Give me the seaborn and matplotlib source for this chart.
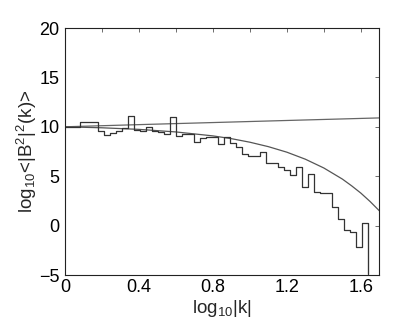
import matplotlib
matplotlib.use("Agg")
import matplotlib.pyplot as plt
import seaborn as sns
import pandas as pd
import numpy as np

# power law (no cutoff)
power_x = [0.0, 0.4, 0.8, 1.2, 1.7]
power_y = [10.0, 10.22, 10.43, 10.64, 10.9]

# power law with cutoff
cut_x = [0.0, 0.2, 0.4, 0.6, 0.8, 0.9, 1.0, 1.1, 1.2, 1.3, 1.4, 1.5, 1.55, 1.6, 1.65, 1.7]
cut_y = [10.0, 9.9, 9.74, 9.48, 9.08, 8.8, 8.44, 7.99, 7.43, 6.72, 5.83, 4.71, 4.03, 3.29, 2.44, 1.5]

# measured spectrum (histogram), first bin is the lead-in from 0
hist_first_edge = 0.0812
hist_bin_width = 0.0324
hist_values = [10.0, 10.45, 10.45, 10.45, 9.6, 9.2, 9.36, 9.57, 9.83, 11.09, 9.72, 9.6, 10.0, 9.6,
               9.47, 9.24, 10.96, 9.07, 9.3, 9.3, 8.5, 8.88, 8.92, 8.92, 8.3, 8.92, 8.35, 7.95,
               7.2, 7.07, 7.07, 7.46, 6.3, 6.3, 5.97, 5.63, 5.12, 5.97, 3.94, 5.22, 3.43, 3.35,
               3.26, 1.92, 0.64, -0.43, -0.6, -2.19, 0.23]

edges = np.concatenate([[0.0], hist_first_edge + hist_bin_width * np.arange(len(hist_values))])
hist_df = pd.DataFrame({
    "x": list(edges) + [edges[-1]],
    "y": hist_values + [hist_values[-1], -10.0],
})

sns.set_style("white")
plt.rcParams["font.family"] = ["Liberation Sans", "DejaVu Sans"]
plt.rcParams["mathtext.fontset"] = "custom"
plt.rcParams["mathtext.rm"] = "Liberation Sans"
plt.rcParams["mathtext.it"] = "Liberation Sans"

fig = plt.figure(figsize=(4.07, 3.23), dpi=100)
ax = fig.add_axes([0.1597, 0.1486, 0.9320 - 0.1597, 0.9133 - 0.1486])

sns.lineplot(x=power_x, y=power_y, ax=ax, color="#666666", linewidth=0.9, sort=False)
sns.lineplot(x=cut_x, y=cut_y, ax=ax, color="#555555", linewidth=0.9, sort=False)
sns.lineplot(data=hist_df, x="x", y="y", ax=ax, color="#333333", linewidth=0.9,
             sort=False, drawstyle="steps-post")

ax.set_xlim(0, 1.7)
ax.set_ylim(-5, 20)
ax.set_xticks(np.arange(0, 1.61, 0.2))
ax.set_xticklabels(["0", "", "0.4", "", "0.8", "", "1.2", "", "1.6"])
ax.set_yticks([-5, 0, 5, 10, 15, 20])
ax.set_yticklabels(["\u22125", "0", "5", "10", "15", "20"])
ax.tick_params(direction="in", length=3, width=0.6, top=True, right=True,
               labelsize=13, colors="#555555", labelcolor="black")
ax.tick_params(axis="x", pad=3)
ax.tick_params(axis="y", pad=4)
for s in ax.spines.values():
    s.set_color("#222222")
    s.set_linewidth(0.8)

ax.set_xlabel(r"log$_{10}$|k|", fontsize=13.5, labelpad=1)
ax.set_ylabel(r"log$_{10}$<|B$^2$|$^2$(k)>", fontsize=13.5, labelpad=0)

fig.savefig("out.png", dpi=100)
